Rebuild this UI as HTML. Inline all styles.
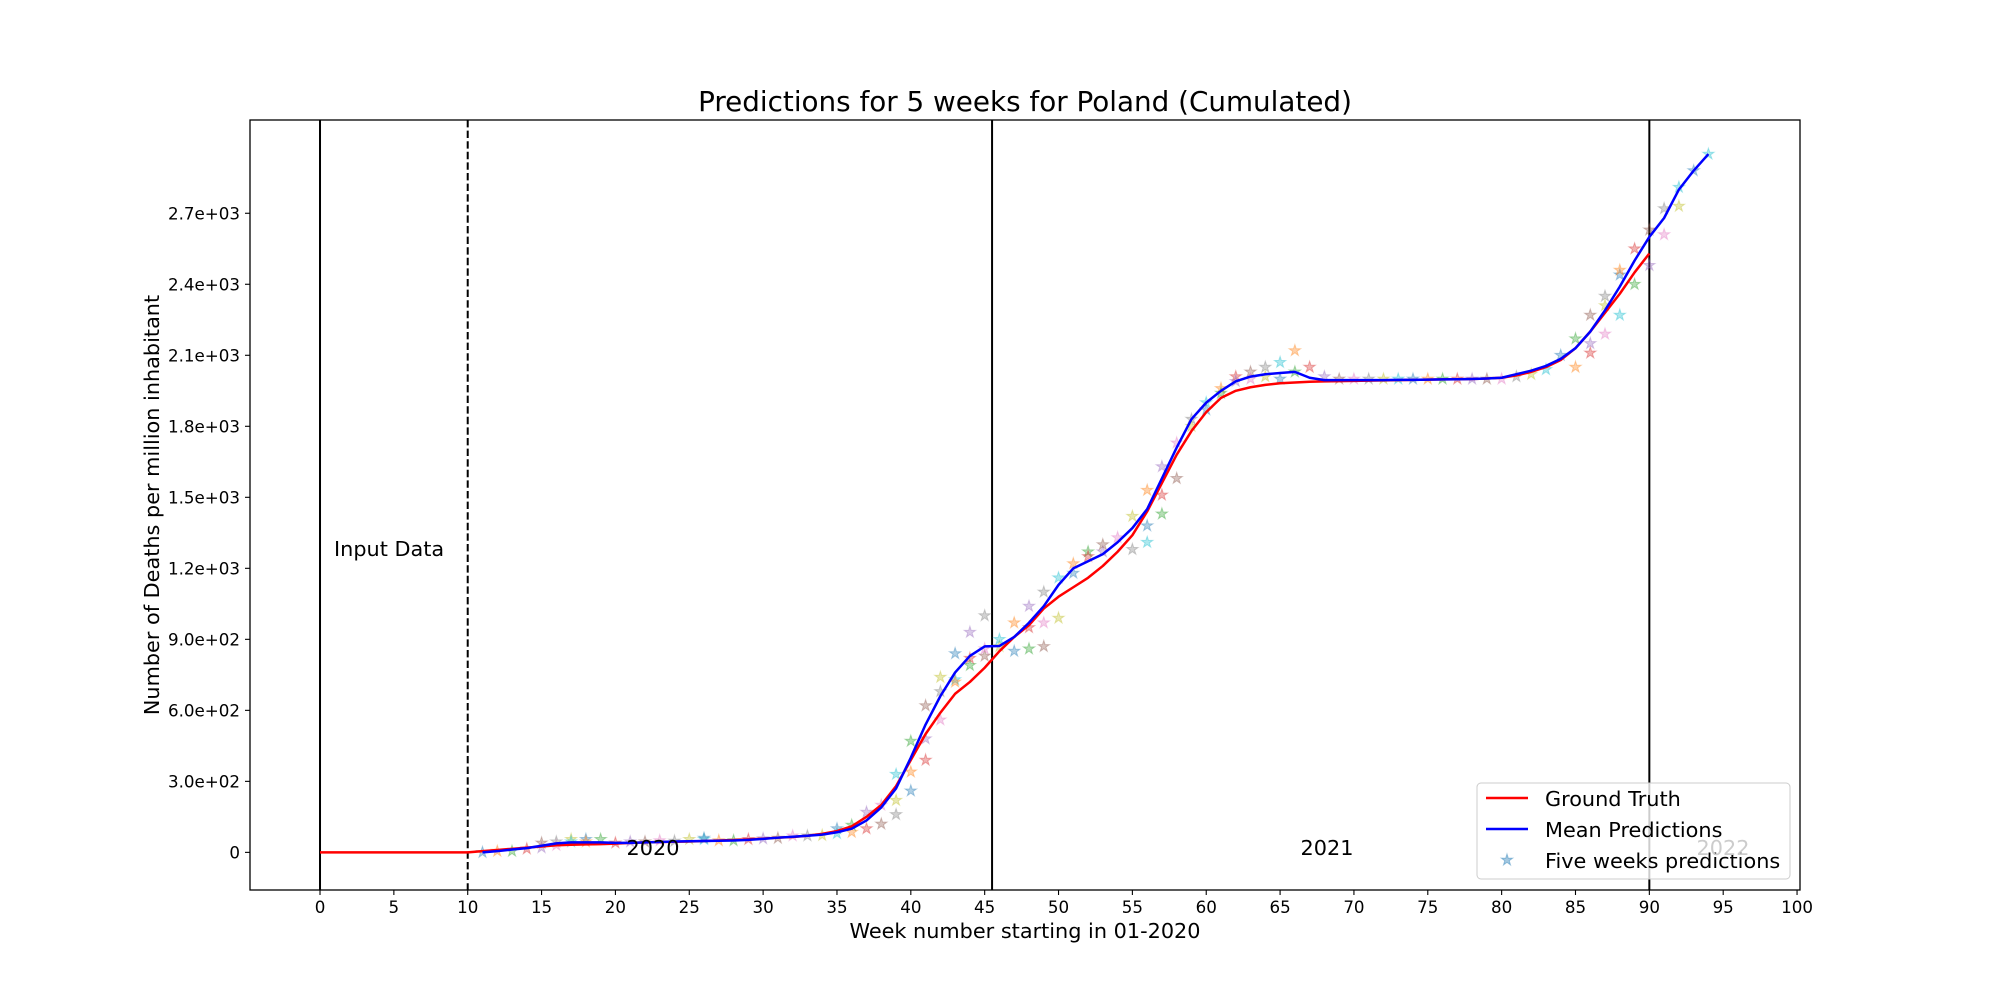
<!DOCTYPE html>
<html><head><meta charset="utf-8"><style>
html,body{margin:0;padding:0;background:#fff}
svg{display:block}
text{font-family:"DejaVu Sans","Liberation Sans",sans-serif}
</style></head><body>
<svg id="chart" width="2000" height="1000" viewBox="0 0 2000 1000" xmlns="http://www.w3.org/2000/svg">
<rect x="0" y="0" width="2000" height="1000" fill="#fff"/>
<g id="plot"></g>
</svg>
<script>
const weeksGT = [0,1,2,3,4,5,6,7,8,9,10,11,12,13,14,15,16,17,18,19,20,21,22,23,24,25,26,27,28,29,30,31,32,33,34,35,36,37,38,39,40,41,42,43,44,45,46,47,48,49,50,51,52,53,54,55,56,57,58,59,60,61,62,63,64,65,66,67,68,69,70,71,72,73,74,75,76,77,78,79,80,81,82,83,84,85,86,87,88,89,90];
const groundTruth = [0,0,0,0,0,0,0,0,0,0,0,5,10,15,20,25,30,32,34,35,37,40,42,44,45,46,48,50,52,55,58,62,65,70,78,90,110,150,200,280,390,500,590,670,720,780,850,910,960,1030,1080,1120,1160,1210,1270,1340,1440,1560,1680,1780,1860,1920,1950,1965,1975,1982,1985,1988,1990,1991,1992,1993,1994,1995,1996,1997,1998,1999,2000,2002,2005,2015,2030,2050,2080,2130,2200,2280,2360,2450,2530];
const weeksMean = [11,12,13,14,15,16,17,18,19,20,21,22,23,24,25,26,27,28,29,30,31,32,33,34,35,36,37,38,39,40,41,42,43,44,45,46,47,48,49,50,51,52,53,54,55,56,57,58,59,60,61,62,63,64,65,66,67,68,69,70,71,72,73,74,75,76,77,78,79,80,81,82,83,84,85,86,87,88,89,90,91,92,93,94];
const meanPred = [0,5,12,18,28,38,42,42,42,40,40,42,44,46,47,48,49,50,53,57,62,66,70,75,85,100,135,190,270,400,540,660,760,830,870,872,910,970,1040,1130,1200,1230,1260,1310,1370,1450,1580,1710,1830,1900,1950,1990,2010,2020,2025,2030,2005,1995,1995,1995,1995,1995,1996,1996,1997,1998,1999,2000,2002,2005,2020,2035,2055,2085,2130,2200,2290,2390,2500,2600,2680,2800,2880,2950];
const starWeeks = [11,12,13,14,15,15,16,16,17,17,18,18,19,20,21,22,23,24,25,26,26,27,28,29,30,31,32,33,34,35,35,36,36,37,37,38,38,39,39,39,40,40,40,41,41,41,42,42,42,43,43,43,44,44,44,45,45,45,46,46,47,47,48,48,48,49,49,49,50,50,51,51,52,52,53,53,54,55,55,56,56,56,57,57,57,58,58,59,59,60,60,61,61,62,62,63,63,64,64,65,65,66,66,67,68,69,70,71,72,73,74,75,76,77,78,79,80,81,82,83,84,85,85,86,86,86,87,87,87,88,88,88,89,89,90,90,91,91,92,92,93,94];
const starVals = [0,5,5,15,20,40,30,45,55,45,55,45,55,40,45,45,50,48,55,55,60,50,50,55,58,60,70,70,72,80,100,85,115,100,170,120,200,160,220,330,260,340,470,390,480,620,560,680,740,730,840,720,790,820,930,830,860,1000,870,900,850,970,860,950,1040,870,970,1100,990,1160,1180,1220,1270,1250,1270,1300,1330,1280,1420,1310,1380,1530,1430,1510,1630,1580,1730,1830,1800,1900,1870,1960,1940,2010,1990,2030,2000,2050,2010,2070,2000,2120,2030,2050,2010,2000,2000,2000,2000,2000,2000,2000,2000,2000,2000,2000,2000,2010,2020,2040,2100,2050,2170,2110,2150,2270,2190,2350,2310,2270,2440,2460,2400,2550,2480,2630,2610,2720,2730,2810,2880,2950];
const starColors = [0,1,2,3,4,5,6,7,8,9,0,1,2,3,4,5,6,7,8,9,0,1,2,3,4,5,6,7,8,9,0,1,2,3,4,5,6,7,8,9,0,1,2,3,4,5,6,7,8,9,0,1,2,3,4,5,6,7,8,9,0,1,2,3,4,5,6,7,8,9,0,1,2,3,4,5,6,7,8,9,0,1,2,3,4,5,6,7,8,9,0,1,2,3,4,5,6,7,8,9,0,1,2,3,4,5,6,7,8,9,0,1,2,3,4,5,6,7,8,9,0,1,2,3,4,5,6,7,8,9,0,1,2,3,4,5,6,7,8,9,0,9];
const xTicks = [0,5,10,15,20,25,30,35,40,45,50,55,60,65,70,75,80,85,90,95,100];
const yTicks = [0,300,600,900,1200,1500,1800,2100,2400,2700];
const yTickLabels = ["0","3.0e+02","6.0e+02","9.0e+02","1.2e+03","1.5e+03","1.8e+03","2.1e+03","2.4e+03","2.7e+03"];
const palette = ["#1f77b4","#ff7f0e","#2ca02c","#d62728","#9467bd","#8c564b","#e377c2","#7f7f7f","#bcbd22","#17becf"];

const L=250,R=1800,T=120,B=890;
const XMIN=-4.74,XMAX=100.2,YMIN=-159,YMAX=3094;
const sx=v=>L+(v-XMIN)/(XMAX-XMIN)*(R-L);
const sy=v=>B-(v-YMIN)/(YMAX-YMIN)*(B-T);
const NS="http://www.w3.org/2000/svg";
const svg=document.getElementById('chart');
function mk(tag,attrs,parent){const e=document.createElementNS(NS,tag);for(const k in attrs)e.setAttribute(k,attrs[k]);(parent||svg).appendChild(e);return e;}
function starPts(cx,cy,r){let p=[];for(let i=0;i<10;i++){const a=-Math.PI/2+i*Math.PI/5;const rr=i%2?r*0.38:r;p.push((cx+rr*Math.cos(a)).toFixed(1)+","+(cy+rr*Math.sin(a)).toFixed(1));}return p.join(" ");}

[[0],[45.5],[90]].forEach(([w])=>{
  const l=mk('line',{x1:sx(w),x2:sx(w),y1:T,y2:B,stroke:'#000','stroke-width':2});
  
  
});
const dl=mk('line',{x1:sx(10),x2:sx(10),y1:T,y2:B,stroke:'#000','stroke-width':2,'stroke-dasharray':'7.4,3.2'});



starWeeks.forEach((w,i)=>{
  const s=mk('polygon',{points:starPts(sx(w),sy(starVals[i]),6),fill:palette[starColors[i]],'fill-opacity':0.35,stroke:palette[starColors[i]],'stroke-opacity':0.35,'stroke-width':1});
  
  
});
const gt=mk('polyline',{points:weeksGT.map((w,i)=>sx(w)+","+sy(groundTruth[i])).join(" "),fill:'none',stroke:'#ff0000','stroke-width':2.5,'stroke-linejoin':'round'});


const mp=mk('polyline',{points:weeksMean.map((w,i)=>sx(w)+","+sy(meanPred[i])).join(" "),fill:'none',stroke:'#0000ff','stroke-width':2.5,'stroke-linejoin':'round'});



const fr=mk('rect',{x:L,y:T,width:R-L,height:B-T,fill:'none',stroke:'#000','stroke-width':1.3});



xTicks.forEach(t=>{
  const tl=mk('line',{x1:sx(t),x2:sx(t),y1:B,y2:B+5,stroke:'#000','stroke-width':1.1});
  
  
  const tx=mk('text',{x:sx(t),y:B+23,'text-anchor':'middle','font-size':16.7,fill:'#000'});
  tx.textContent=t;
  
  
});
yTicks.forEach((t,i)=>{
  const tl=mk('line',{x1:L-5,x2:L,y1:sy(t),y2:sy(t),stroke:'#000','stroke-width':1.1});
  
  
  const tx=mk('text',{x:L-10,y:sy(t)+6,'text-anchor':'end','font-size':16.7,fill:'#000'});
  tx.textContent=yTickLabels[i];
  
  
});

function txt(name,x,y,s,size,attrs){const e=mk('text',Object.assign({x:x,y:y,'font-size':size,fill:'#000'},attrs||{}));e.textContent=s;return e;}
txt('chart-title',1025,111,'Predictions for 5 weeks for Poland (Cumulated)',27.8,{'text-anchor':'middle'});
txt('x-axis-title',1025,938,'Week number starting in 01-2020',20.8,{'text-anchor':'middle'});
txt('y-axis-title',0,0,'Number of Deaths per million inhabitant',20.8,{'text-anchor':'middle',transform:'translate(159,505) rotate(-90)'});
txt('input-data-label',334,556,'Input Data',20.8);
txt('year-2020-label',653,855,'2020',20.8,{'text-anchor':'middle'});
txt('year-2021-label',1327,855,'2021',20.8,{'text-anchor':'middle'});

const lg=mk('g',{});


mk('rect',{x:1477,y:783,width:313,height:96,rx:4,fill:'#fff','fill-opacity':0.8,stroke:'#ccc','stroke-width':1},lg);
const l1=mk('line',{x1:1486,x2:1528,y1:798,y2:798,stroke:'#ff0000','stroke-width':2.5},lg);


const l2=mk('line',{x1:1486,x2:1528,y1:829,y2:829,stroke:'#0000ff','stroke-width':2.5},lg);


const l3=mk('polygon',{points:starPts(1507,860,6),fill:palette[0],'fill-opacity':0.4,stroke:palette[0],'stroke-opacity':0.4},lg);


[['legend-ground-truth','Ground Truth',806],['legend-mean-predictions','Mean Predictions',837],['legend-five-weeks','Five weeks predictions',868]].forEach(([n,s,y])=>{
  const e=mk('text',{x:1545,y:y,'font-size':20.8,fill:'#000'},lg);e.textContent=s;
  
  
});
txt('year-2022-label',1723,855,'2022',20.8,{'text-anchor':'middle',fill:'#ccc'});
</script>
</body></html>
